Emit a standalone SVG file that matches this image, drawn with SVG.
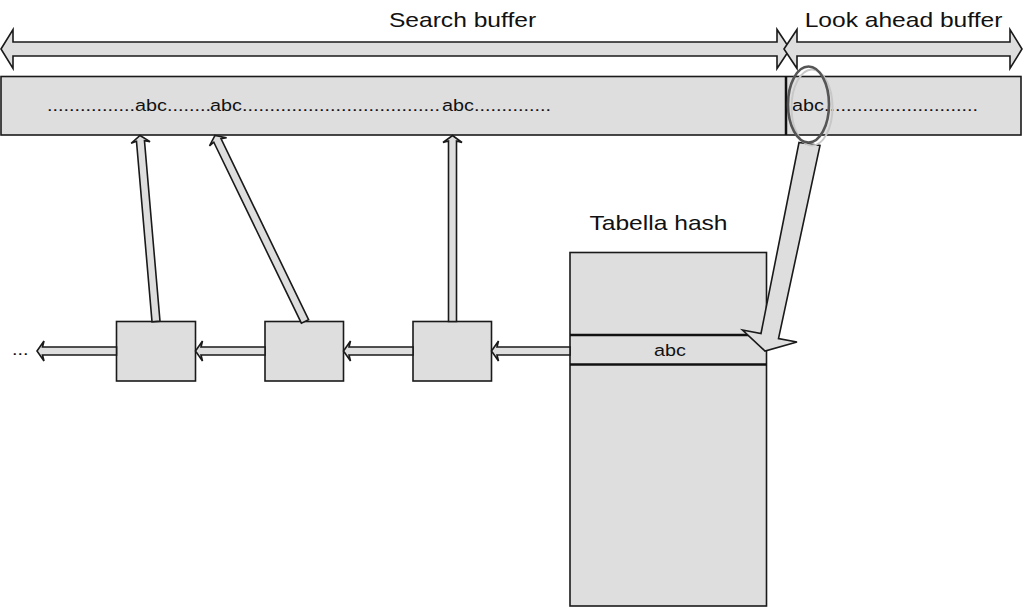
<svg xmlns="http://www.w3.org/2000/svg" width="1023" height="608" viewBox="0 0 1023 608">
<style>
.shape{fill:#dedede;stroke:#1a1a1a;stroke-width:1.6}
.arr{fill:#dedede;stroke:#1a1a1a;stroke-width:1.6;stroke-linejoin:miter}
.t{font-family:"Liberation Sans",Arial,sans-serif;fill:#111}
.big{font-size:20.5px}
.sm{font-size:16.5px}
</style>
<rect x="0" y="0" width="1023" height="608" fill="#ffffff"/>

<g id="search-buffer-arrow">
<polygon class="arr" points="1,49 13,29.5 13,42 777,42 777,29.5 790,49 777,68.5 777,56 13,56 13,68.5"/>
<text class="t big" text-anchor="middle" transform="translate(462.5,27) scale(1.2,1)">Search buffer</text>
</g>
<g id="lookahead-buffer-arrow">
<polygon class="arr" points="784,49 797,29.5 797,42 1010,42 1010,29.5 1022,49 1010,68.5 1010,56 797,56 797,68.5"/>
<text class="t big" text-anchor="middle" transform="translate(903.5,27.3) scale(1.2,1)">Look ahead buffer</text>
</g>

<g id="buffer">
<rect class="shape" x="1" y="76.5" width="1020" height="58.5"/>
<line x1="786" y1="76" x2="786" y2="135" stroke="#111" stroke-width="2.5"/>
<text class="t sm" transform="translate(47,111) scale(1.2,1)">................</text>
<text class="t sm" transform="translate(135,111) scale(1.2,1)">abc</text>
<text class="t sm" transform="translate(167,111) scale(1.2,1)">........</text>
<text class="t sm" transform="translate(210,111) scale(1.2,1)">abc</text>
<text class="t sm" transform="translate(242,111) scale(1.2,1)">....................................</text>
<text class="t sm" transform="translate(442,111) scale(1.2,1)">abc</text>
<text class="t sm" transform="translate(474,111) scale(1.2,1)">..............</text>
<text class="t sm" transform="translate(792,111) scale(1.2,1)">abc............................</text>
</g>

<g id="hash-table">
<text class="t big" text-anchor="middle" transform="translate(658.5,230) scale(1.2,1)">Tabella hash</text>
<rect class="shape" x="570" y="252.5" width="196.5" height="353.5"/>
<line x1="570" y1="335" x2="766.5" y2="335" stroke="#111" stroke-width="2.6"/>
<line x1="570" y1="364.5" x2="766.5" y2="364.5" stroke="#111" stroke-width="2.6"/>
<text class="t sm" text-anchor="middle" transform="translate(670,356) scale(1.2,1)">abc</text>
</g>

<g id="node1"><rect class="shape" x="116.5" y="321.5" width="79" height="59.5"/></g>
<g id="node2"><rect class="shape" x="265" y="321.5" width="78.5" height="59.5"/></g>
<g id="node3"><rect class="shape" x="413" y="321.5" width="78.5" height="59.5"/></g>
<g id="ellipsis"><text class="t sm" transform="translate(12,355) scale(1.2,1)">...</text></g>

<g id="connectors">
<polygon class="arr" points="0,0 9.5,7 4,5.5 4,186.7 -4,186.7 -4,5.5 -9.5,7" transform="translate(140,135.5) rotate(-4.92)"/>
<polygon class="arr" points="0,0 9.5,7 4,5.5 4,206.6 -4,206.6 -4,5.5 -9.5,7" transform="translate(215,135.5) rotate(-25.82)"/>
<polygon class="arr" points="0,0 9.5,7 4,5.5 4,186 -4,186 -4,5.5 -9.5,7" transform="translate(452.5,135.5)"/>
<polygon class="arr" points="0,0 10,7 4,5.5 4,78.5 -4,78.5 -4,5.5 -10,7" transform="translate(491.5,351) rotate(-90)"/>
<polygon class="arr" points="0,0 10,7 4,5.5 4,69.5 -4,69.5 -4,5.5 -10,7" transform="translate(343.5,351) rotate(-90)"/>
<polygon class="arr" points="0,0 10,7 4,5.5 4,69.5 -4,69.5 -4,5.5 -10,7" transform="translate(195.5,351) rotate(-90)"/>
<polygon class="arr" points="0,0 10,7 4,5.5 4,79.5 -4,79.5 -4,5.5 -10,7" transform="translate(37,351) rotate(-90)"/>
<polygon class="arr" points="799,142.5 820,145.5 778.5,338.5 797,342 765,351 742.5,330 761,333.5"/>
</g>

<g id="highlight">
<ellipse cx="812" cy="107.5" rx="20.5" ry="38" fill="none" stroke="#c8c8c8" stroke-width="2"/>
<ellipse cx="808.5" cy="104.5" rx="20.5" ry="38" fill="none" stroke="#555555" stroke-width="2.6"/>
</g>
</svg>
